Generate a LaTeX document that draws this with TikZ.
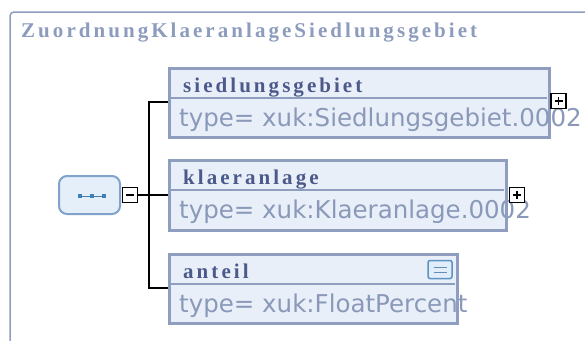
\documentclass[tikz,border=0pt]{standalone}
\usepackage{fontspec}
\newfontfamily\hdrfont[LetterSpace=14.5]{Liberation Serif}
\newfontfamily\typefont{DejaVu Sans}
\definecolor{frameC}{HTML}{8E9DBE}
\definecolor{titleC}{HTML}{8D9CBD}
\definecolor{borderC}{HTML}{8F9EBF}
\definecolor{fillC}{HTML}{E9EFF9}
\definecolor{hdrC}{HTML}{4C5A8B}
\definecolor{typeC}{HTML}{8A99B9}
\definecolor{seqFill}{HTML}{E5EFF9}
\definecolor{seqBorder}{HTML}{7FA3C9}
\definecolor{dotC}{HTML}{3F80B6}
\definecolor{docBorder}{HTML}{5A93C4}
\definecolor{docFill}{HTML}{E1EDF9}
\tikzset{
  elfill/.style={rectangle, fill=fillC, draw=none, inner sep=0pt, outer sep=0pt, anchor=north west},
  elborder/.style={draw=borderC, line width=3pt},
  sepline/.style={draw=borderC, line width=1.5pt},
  hdrtext/.style={anchor=base west, inner sep=0pt, text=hdrC, font=\hdrfont\bfseries\fontsize{21}{25}\selectfont},
  typetext/.style={anchor=base west, inner sep=0pt, text=typeC, font=\typefont\fontsize{24.5}{29}\selectfont},
  conn/.style={draw=black, line width=2pt},
  iconbox/.style={rectangle, draw=black, fill=white, line width=1.3pt, minimum width=15pt, minimum height=15pt, inner sep=0pt},
  seqbox/.style={rectangle, rounded corners=8pt, draw=seqBorder, fill=seqFill, line width=2pt, minimum width=61pt, minimum height=38pt, inner sep=0pt},
  docicon/.style={rectangle, rounded corners=2pt, draw=docBorder, fill=docFill, line width=1.5pt, minimum width=24pt, minimum height=18pt, inner sep=0pt},
}
\begin{document}
\begin{tikzpicture}[x=1pt,y=-1pt]
\useasboundingbox (0,0) rectangle (585,340);
\clip (0,0) rectangle (585,340);
% outer frame
\draw[frameC, line width=1.5pt, rounded corners=4pt] (10,360) -- (10,12) -- (600,12);
\node[anchor=base west, inner sep=0pt, text=titleC, font=\hdrfont\bfseries\fontsize{21}{25}\selectfont] (title) at (21,37) {ZuordnungKlaeranlageSiedlungsgebiet};

% sequence node
\node[seqbox] (seq) at (89.5,195) {};
\coordinate (d1) at (80,196);
\coordinate (d3) at (104,196);
\draw[dotC, line width=1pt] (d1) -- (d3);
\foreach \xx in {80,92,104}{\fill[dotC] (\xx-2.4,193.6) rectangle (\xx+2.4,198.4);}
\node[iconbox] (minus) at (130,195) {};
\draw[black, line width=1.5pt] (126,195) -- (134,195);

% boxes (fill)
\node[elfill, minimum width=380pt, minimum height=69pt] (b1) at (169.5,68.5) {};
\node[elfill, minimum width=337pt, minimum height=70pt] (b2) at (169.5,160.5) {};
\node[elfill, minimum width=288pt, minimum height=69pt] (b3) at (169.5,254.5) {};

% separators
\draw[sepline] (171,98) -- (547,98);
\draw[sepline] (171,190) -- (504,190);
\draw[sepline] (171,284) -- (455,284);

% texts
\node[hdrtext] (h1) at (183,92) {siedlungsgebiet};
\node[typetext] (t1) at (179,126) {type= xuk:Siedlungsgebiet.0002};
\node[hdrtext] (h2) at (183,184) {klaeranlage};
\node[typetext] (t2) at (179,218) {type= xuk:Klaeranlage.0002};
\node[hdrtext] (h3) at (183,278) {anteil};
\node[typetext] (t3) at (179,312) {type= xuk:FloatPercent};

% borders
\draw[elborder] (b1.north west) rectangle (b1.south east);
\draw[elborder] (b2.north west) rectangle (b2.south east);
\draw[elborder] (b3.north west) rectangle (b3.south east);

% doc icon
\node[docicon] (doc) at (440,269.5) {};
\draw[docBorder!80!gray, line width=1pt] (433.5,267) -- (446.5,267);
\draw[docBorder!80!gray, line width=1pt] (433.5,272) -- (446.5,272);

% plus icons
\node[iconbox] (p1) at (558.5,101) {};
\draw[black, line width=1.5pt] (554.5,101) -- (562.5,101) (558.5,97) -- (558.5,105);
\node[iconbox] (p2) at (517,195) {};
\draw[black, line width=1.5pt] (513,195) -- (521,195) (517,191) -- (517,199);

% connectors
\coordinate (j) at (149,195);
\coordinate (c1) at (168,102);
\coordinate (c2) at (168,195);
\coordinate (c3) at (168,288);
\draw[conn] (minus.east) -- (j);
\draw[conn] (c1) -| (j);
\draw[conn] (c3) -| (j);
\draw[conn] (j) -- (c2);
\end{tikzpicture}
\end{document}
